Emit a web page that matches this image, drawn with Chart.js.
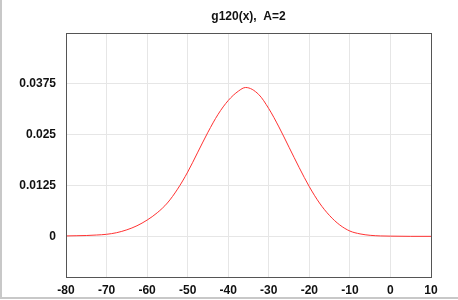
<!DOCTYPE html>
<html>
<head>
<meta charset="utf-8">
<script src="https://cdn.jsdelivr.net/npm/chart.js@4"></script>
<style>
  html, body { margin: 0; padding: 0; background: #fff; }
  #wrap { position: relative; width: 458px; height: 300px; }
  #edgeL { position: absolute; left: 0; top: 0; width: 2px; height: 299px; background: #c8c8c8; }
  #edgeB { position: absolute; left: 0; top: 297px; width: 458px; height: 2px; background: #c8c8c8; }
</style>
</head>
<body>
<div id="wrap">
  <canvas id="c" width="458" height="300"></canvas>
  <div id="edgeL"></div>
  <div id="edgeB"></div>
</div>
<script>
const titleText = "g120(x),  A=2";
const xValues = [-80, -77.5, -75, -72.5, -70, -67.5, -65, -62.5, -60, -57.5, -55, -52.5, -50, -47.5, -45, -42.5, -40, -37.5, -35.7, -32.5, -30, -27.5, -25, -22.5, -20, -17.5, -15, -12.5, -10, -7.5, -5, -2.5, 0, 5, 10];
const yValues = [0.0001, 0.00015, 0.0002, 0.00032, 0.0005, 0.0009, 0.0016, 0.0026, 0.0040, 0.0058, 0.0082, 0.0116, 0.0158, 0.0207, 0.0256, 0.0300, 0.0334, 0.0357, 0.0366, 0.0349, 0.0314, 0.0269, 0.0219, 0.0169, 0.0122, 0.0082, 0.0051, 0.0028, 0.0013, 0.0006, 0.00025, 0.0001, 0.00005, 0, 0];
const xTicks = [-80, -70, -60, -50, -40, -30, -20, -10, 0, 10];
const yTicks = [0, 0.0125, 0.025, 0.0375];
const yTickLabels = ["0", "0.0125", "0.025", "0.0375"];

const points = xValues.map((x, i) => ({ x: x, y: yValues[i] }));

const frame = {
  id: 'frame',
  afterDraw(chart) {
    const a = chart.chartArea, ctx = chart.ctx;
    ctx.save();
    ctx.strokeStyle = '#555';
    ctx.lineWidth = 1;
    ctx.strokeRect(Math.round(a.left) + 0.5, Math.round(a.top) + 0.5, Math.round(a.right - a.left), Math.round(a.bottom - a.top));
    ctx.restore();
  }
};

new Chart(document.getElementById('c'), {
  type: 'line',
  data: {
    datasets: [{
      data: points,
      borderColor: 'rgb(255,50,50)',
      borderWidth: 1,
      pointRadius: 0,
      fill: false,
      cubicInterpolationMode: 'monotone'
    }]
  },
  options: {
    responsive: false,
    animation: false,
    devicePixelRatio: 1,
    layout: { padding: { left: 0, right: 27, top: 0, bottom: 0 } },
    plugins: {
      legend: { display: false },
      tooltip: { enabled: false },
      title: {
        display: true,
        text: titleText,
        fullSize: false,
        color: '#111',
        font: { family: 'Liberation Sans, Arial, sans-serif', size: 12, weight: 'bold' },
        padding: { top: 9, bottom: 10 }
      }
    },
    scales: {
      x: {
        type: 'linear',
        min: -80, max: 10,
        afterBuildTicks(s) { s.ticks = xTicks.map(v => ({ value: v })); },
        afterFit(s) { s.height = 23; },
        grid: { color: '#e6e6e6', drawTicks: false, lineWidth: 1 },
        border: { display: false },
        ticks: {
          color: '#111',
          padding: 6,
          maxRotation: 0,
          font: { family: 'Liberation Sans, Arial, sans-serif', size: 12, weight: 'bold' },
          callback: (v) => String(v)
        }
      },
      y: {
        type: 'linear',
        min: -0.01, max: 0.0499,
        afterBuildTicks(s) { s.ticks = yTicks.map(v => ({ value: v })); },
        afterFit(s) { s.width = 66; },
        grid: { color: '#e6e6e6', drawTicks: false, lineWidth: 1 },
        border: { display: false },
        ticks: {
          color: '#111',
          padding: 10,
          font: { family: 'Liberation Sans, Arial, sans-serif', size: 12, weight: 'bold' },
          callback: (v) => { const i = yTicks.indexOf(v); return i >= 0 ? yTickLabels[i] : ''; }
        }
      }
    }
  },
  plugins: [frame]
});
</script>
</body>
</html>
